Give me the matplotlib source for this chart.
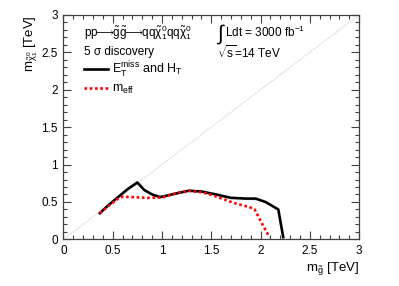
import matplotlib
matplotlib.use("Agg")
import matplotlib.pyplot as plt
from matplotlib.ticker import MultipleLocator

plt.rcParams['font.family'] = ['Liberation Sans', 'DejaVu Sans']
plt.rcParams['mathtext.fontset'] = 'custom'
plt.rcParams['mathtext.rm'] = 'Liberation Sans'
plt.rcParams['mathtext.it'] = 'Liberation Sans'
plt.rcParams['mathtext.bf'] = 'Liberation Sans:bold'
plt.rcParams['mathtext.sf'] = 'Liberation Sans'

# Data (TeV)
met_ht_x = [0.37, 0.45, 0.55, 0.65, 0.75, 0.82, 0.90, 0.98, 1.10, 1.27, 1.40, 1.55, 1.70, 1.85, 1.95, 2.05, 2.18, 2.23]
met_ht_y = [0.35, 0.45, 0.56, 0.67, 0.76, 0.66, 0.60, 0.565, 0.60, 0.65, 0.64, 0.60, 0.555, 0.545, 0.545, 0.50, 0.40, 0.03]
meff_x = [0.37, 0.45, 0.55, 0.60, 0.70, 0.85, 1.00, 1.15, 1.27, 1.40, 1.50, 1.62, 1.72, 1.89, 1.94, 2.02, 2.09]
meff_y = [0.35, 0.44, 0.54, 0.57, 0.565, 0.555, 0.56, 0.62, 0.65, 0.63, 0.595, 0.54, 0.49, 0.43, 0.40, 0.20, 0.03]
diag = [0, 3]
tick_vals = [0, 0.5, 1, 1.5, 2, 2.5, 3]
tick_labels = ['0', '0.5', '1', '1.5', '2', '2.5', '3']

fig = plt.figure(figsize=(3.99, 2.86), dpi=100)
ax = fig.add_axes([0.159, 0.163, 0.741, 0.785])

ax.plot(diag, diag, color='#c8c8c8', lw=0.7, ls=(0, (1, 1)))
ax.plot(met_ht_x, met_ht_y, color='black', lw=1.9, label=r'E$_\mathrm{T}^\mathrm{miss}$ and H$_\mathrm{T}$')
ax.plot(meff_x, meff_y, color='#ff0000', lw=1.9, ls=(0, (1, 1)), label=r'm$_\mathrm{eff}$')

ax.set_xlim(0, 3)
ax.set_ylim(0, 3)
ax.xaxis.set_minor_locator(MultipleLocator(0.1))
ax.yaxis.set_minor_locator(MultipleLocator(0.1))
ax.set_xticks(tick_vals)
ax.set_xticklabels(tick_labels)
ax.set_yticks(tick_vals)
ax.set_yticklabels(tick_labels)
ax.tick_params(which='both', direction='in', top=True, right=True, labelsize=8.5, color='#404040')
ax.tick_params(which='major', length=6, width=0.8, pad=4)
ax.tick_params(which='minor', length=3, width=0.8)
for s in ax.spines.values():
    s.set_linewidth(0.9)
    s.set_color('#404040')

ax.set_xlabel(r'm$_{\tilde{\mathrm{g}}}$ [TeV]', fontsize=9.5, loc='right', labelpad=2)
ax.set_ylabel(r'm$_{\tilde{\chi}_1^0}$ [TeV]', fontsize=9.5, loc='top', labelpad=1)

ax.text(0.068, 0.92, r'pp$\!\!\longrightarrow\!\!\tilde{\mathrm{g}}\tilde{\mathrm{g}}\!\!\longrightarrow\!\!$qq$\tilde{\chi}_1^0$qq$\tilde{\chi}_1^0$',
        transform=ax.transAxes, fontsize=8.5, va='center', ha='left')
ax.text(0.068, 0.835, r'5 σ discovery', transform=ax.transAxes, fontsize=8.5, va='center', ha='left')
ax.text(0.52, 0.915, '∫', transform=ax.transAxes, fontsize=15, va='center', ha='left')
ax.text(0.548, 0.924, r'Ldt = 3000 fb$^{\mathregular{-1}}$', transform=ax.transAxes, fontsize=8.5, va='center', ha='left')
ax.text(0.52, 0.83, r'$\sqrt{\mathrm{s}}$=14 TeV', transform=ax.transAxes, fontsize=8.5, va='center', ha='left')

leg = ax.legend(loc='upper left', bbox_to_anchor=(0.07, 0.80), frameon=False, fontsize=9,
                handlelength=1.9, handletextpad=0.3, labelspacing=0.25, borderaxespad=0, borderpad=0)

fig.savefig('out.png', dpi=100)
